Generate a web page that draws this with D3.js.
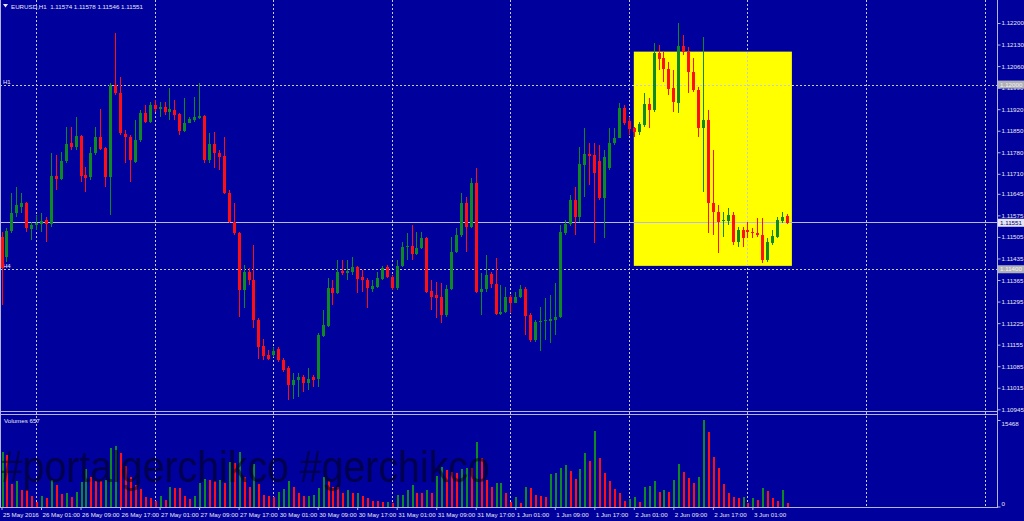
<!DOCTYPE html>
<html><head><meta charset="utf-8">
<script src="https://cdn.jsdelivr.net/npm/d3@7"></script>
<style>html,body{margin:0;padding:0;background:#00009C;overflow:hidden}svg{display:block}</style>
</head><body>
<svg id="c" width="1024" height="521"></svg>
<script>
// ---- DATA (EURUSD H1, 25 May 2016 17:00 .. 3 Jun 2016 08:00) ----
const opens = [1.11505,1.11440,1.11525,1.11584,1.11603,1.11615,1.11531,1.11545,1.11547,1.11560,1.11547,1.11703,1.11692,1.11753,1.11809,1.11796,1.11833,1.11706,1.11699,1.11777,1.11831,1.11793,1.11701,1.11999,1.11972,1.11839,1.11831,1.11749,1.11820,1.11907,1.11879,1.11933,1.11920,1.11926,1.11911,1.11917,1.11904,1.11850,1.11876,1.11885,1.11891,1.11899,1.11755,1.11807,1.11777,1.11768,1.11647,1.11554,1.11517,1.11332,1.11392,1.11365,1.11235,1.11150,1.11121,1.11121,1.11140,1.11105,1.11078,1.11024,1.11040,1.11050,1.11029,1.11049,1.11042,1.11183,1.11215,1.11338,1.11324,1.11394,1.11387,1.11392,1.11406,1.11374,1.11365,1.11337,1.11343,1.11367,1.11406,1.11376,1.11338,1.11410,1.11471,1.11475,1.11449,1.11468,1.11502,1.11329,1.11316,1.11310,1.11251,1.11336,1.11457,1.11511,1.11616,1.11538,1.11681,1.11327,1.11336,1.11384,1.11352,1.11254,1.11260,1.11310,1.11291,1.11309,1.11336,1.11251,1.11170,1.11227,1.11231,1.11233,1.11235,1.11246,1.11517,1.11546,1.11625,1.11571,1.11739,1.11773,1.11771,1.11752,1.11630,1.11730,1.11809,1.11827,1.11923,1.11882,1.11858,1.11845,1.11869,1.11936,1.11917,1.12102,1.12087,1.12051,1.11988,1.11939,1.12126,1.12105,1.12040,1.11982,1.11858,1.11885,1.11614,1.11587,1.11557,1.11557,1.11576,1.11489,1.11527,1.11527,1.11522,1.11519,1.11511,1.11430,1.11484,1.11506,1.11557,1.11574];
const highs = [1.11521,1.11534,1.11648,1.11668,1.11648,1.11619,1.11554,1.11576,1.11584,1.11571,1.11778,1.11771,1.11782,1.11863,1.11863,1.11896,1.11836,1.11733,1.11798,1.11863,1.11920,1.11798,1.12004,1.12169,1.12026,1.11852,1.11836,1.11885,1.11917,1.11934,1.11944,1.11950,1.11944,1.11944,1.11988,1.11950,1.11907,1.11955,1.11896,1.11961,1.12004,1.11901,1.11842,1.11847,1.11787,1.11831,1.11657,1.11614,1.11521,1.11414,1.11404,1.11479,1.11240,1.11175,1.11137,1.11148,1.11148,1.11111,1.11085,1.11062,1.11062,1.11056,1.11078,1.11056,1.11192,1.11267,1.11370,1.11365,1.11430,1.11430,1.11430,1.11441,1.11410,1.11397,1.11371,1.11365,1.11392,1.11410,1.11414,1.11381,1.11430,1.11489,1.11517,1.11544,1.11522,1.11522,1.11506,1.11365,1.11359,1.11354,1.11349,1.11504,1.11533,1.11649,1.11636,1.11695,1.11728,1.11387,1.11446,1.11392,1.11435,1.11349,1.11343,1.11316,1.11327,1.11349,1.11343,1.11257,1.11235,1.11278,1.11305,1.11316,1.11354,1.11544,1.11560,1.11641,1.11668,1.11798,1.11858,1.11809,1.11809,1.11804,1.11787,1.11858,1.11858,1.11939,1.11934,1.11896,1.11863,1.11877,1.11972,1.11955,1.12134,1.12129,1.12107,1.12074,1.12047,1.12199,1.12161,1.12123,1.12085,1.11993,1.12155,1.11917,1.11787,1.11609,1.11587,1.11600,1.11586,1.11538,1.11538,1.11554,1.11533,1.11565,1.11565,1.11500,1.11527,1.11571,1.11587,1.11578];
const lows = [1.11284,1.11423,1.11518,1.11571,1.11583,1.11522,1.11495,1.11527,1.11522,1.11489,1.11538,1.11657,1.11690,1.11744,1.11787,1.11787,1.11684,1.11652,1.11690,1.11771,1.11787,1.11668,1.11576,1.11966,1.11836,1.11744,1.11684,1.11744,1.11814,1.11874,1.11874,1.11912,1.11896,1.11901,1.11885,1.11885,1.11836,1.11847,1.11874,1.11879,1.11887,1.11744,1.11744,1.11728,1.11722,1.11645,1.11549,1.11511,1.11246,1.11273,1.11349,1.11208,1.11110,1.11105,1.11105,1.11116,1.11099,1.11067,1.10975,1.10980,1.10986,1.11002,1.11007,1.11018,1.11018,1.11180,1.11212,1.11284,1.11319,1.11381,1.11365,1.11381,1.11322,1.11327,1.11273,1.11327,1.11339,1.11365,1.11370,1.11332,1.11332,1.11408,1.11430,1.11430,1.11446,1.11466,1.11322,1.11267,1.11240,1.11224,1.11246,1.11332,1.11452,1.11506,1.11457,1.11534,1.11322,1.11251,1.11327,1.11338,1.11251,1.11251,1.11257,1.11257,1.11289,1.11305,1.11186,1.11164,1.11164,1.11135,1.11170,1.11159,1.11186,1.11241,1.11511,1.11540,1.11511,1.11554,1.11636,1.11674,1.11484,1.11625,1.11500,1.11722,1.11804,1.11825,1.11869,1.11836,1.11831,1.11836,1.11863,1.11858,1.11912,1.12047,1.12009,1.11966,1.11912,1.11907,1.12096,1.11972,1.11975,1.11831,1.11652,1.11517,1.11511,1.11452,1.11506,1.11544,1.11479,1.11473,1.11473,1.11500,1.11500,1.11506,1.11419,1.11424,1.11479,1.11500,1.11549,1.11546];
const closes = [1.11404,1.11524,1.11584,1.11609,1.11615,1.11534,1.11544,1.11551,1.11558,1.11547,1.11703,1.11692,1.11753,1.11807,1.11796,1.11833,1.11703,1.11695,1.11777,1.11831,1.11790,1.11701,1.11999,1.11972,1.11842,1.11829,1.11755,1.11820,1.11909,1.11879,1.11933,1.11920,1.11928,1.11911,1.11920,1.11902,1.11850,1.11876,1.11887,1.11894,1.11899,1.11755,1.11807,1.11777,1.11766,1.11647,1.11554,1.11517,1.11332,1.11392,1.11365,1.11235,1.11148,1.11118,1.11110,1.11134,1.11105,1.11072,1.11024,1.11040,1.11050,1.11029,1.11045,1.11040,1.11186,1.11219,1.11338,1.11322,1.11392,1.11387,1.11395,1.11406,1.11367,1.11365,1.11338,1.11346,1.11370,1.11403,1.11374,1.11338,1.11410,1.11471,1.11475,1.11449,1.11468,1.11500,1.11327,1.11310,1.11305,1.11251,1.11336,1.11457,1.11511,1.11614,1.11538,1.11679,1.11327,1.11336,1.11381,1.11352,1.11254,1.11260,1.11310,1.11289,1.11309,1.11336,1.11248,1.11170,1.11227,1.11233,1.11235,1.11237,1.11246,1.11522,1.11546,1.11625,1.11571,1.11741,1.11773,1.11769,1.11712,1.11630,1.11766,1.11809,1.11827,1.11923,1.11874,1.11856,1.11845,1.11871,1.11936,1.11917,1.12102,1.12083,1.12051,1.11986,1.11942,1.12126,1.12105,1.12040,1.11982,1.11858,1.11885,1.11614,1.11587,1.11554,1.11561,1.11576,1.11489,1.11527,1.11502,1.11520,1.11517,1.11511,1.11430,1.11487,1.11509,1.11560,1.11571,1.11551];
const volumes = [9800,9210,4020,4560,2950,2880,1880,860,1880,1460,4740,3840,2240,2350,1760,2650,4440,6650,5330,4620,4600,4740,10400,10820,9510,7240,5330,3840,3070,1640,1460,1040,1880,1160,3430,3250,3230,1880,1280,1880,4260,4860,4820,4620,4740,4260,8020,7720,9800,5330,3540,7600,4020,2060,1880,1640,2650,3070,4560,3540,2470,1880,1900,2060,3250,5220,4620,3430,3400,2350,2950,2470,2500,1880,1460,1040,1020,860,880,700,2060,2080,2950,3840,2470,2450,2950,2470,5450,7000,6530,6230,6050,6650,6830,6800,11590,8610,4740,3540,4260,4280,2470,860,1640,680,3430,3250,2060,1880,1640,5810,6050,6830,7420,6410,4860,6650,9510,8190,13560,8610,6050,4620,3130,2350,1040,1280,1640,860,3430,3670,4620,2650,2950,2650,4740,7600,6230,5030,4260,5330,15468,13320,8910,6830,4020,2350,1760,1460,1640,570,1460,1160,3250,2830,1460,1040,2950,657];
const timeTickIndex = [0,8,16,24,32,40,48,56,64,72,80,88,96,104,112,120,128,136,144,152];
const timeTickLabels = ["25 May 2016","26 May 01:00","26 May 09:00","26 May 17:00","27 May 01:00","27 May 09:00","27 May 17:00","30 May 01:00","30 May 09:00","30 May 17:00","31 May 01:00","31 May 09:00","31 May 17:00","1 Jun 01:00","1 Jun 09:00","1 Jun 17:00","2 Jun 01:00","2 Jun 09:00","2 Jun 17:00","3 Jun 01:00"];
const dayGridIndex = [7,31,55,79,103,127,151,175,199];
const priceTicks = [1.12200,1.12130,1.12060,1.11990,1.11920,1.11850,1.11780,1.11710,1.11645,1.11575,1.11505,1.11435,1.11365,1.11295,1.11225,1.11155,1.11085,1.11015,1.10945];
const volumeTicks = [15468, 0];
const hLines = [{name:"H1", price:1.12000},{name:"H4", price:1.11400}];
const bidPrice = 1.11551;
const zoneStart = 128, zoneEnd = 160, zoneTop = 1.12107, zoneBottom = 1.11411;
const header = "EURUSD,H1  1.11574 1.11578 1.11546 1.11551";
const volumeTitle = "Volumes 657";
const watermark = "#portalgerchikco #gerchikco";

// ---- LAYOUT ----
const W = 1024, H = 521, axisX = 997;
const BG = "#00009C", UP = "#0f8a22", DN = "#ff1010", FG = "#e8e8f4", GRID = "#c8c8d8", FRAME = "#b4b4e6";
const FONT = "'Liberation Sans', Arial, sans-serif";
const svg = d3.select("#c");
svg.append("rect").attr("width", W).attr("height", H).attr("fill", BG);

const x = d3.scaleLinear().domain([0, 159]).range([1.5, 1.5 + 4.94 * 159]);
const y = d3.scaleLinear().domain([1.10945, 1.12200]).range([409.3, 23]);
const yv = d3.scaleLinear().domain([0, 15468]).range([506.5, 420]);
const mainTop = 0, mainBottom = 411.5, volTop = 414.5, volBottom = 506.5;

// yellow zone (background object)
svg.append("rect")
  .attr("x", x(zoneStart)).attr("width", x(zoneEnd) - x(zoneStart))
  .attr("y", y(zoneTop)).attr("height", y(zoneBottom) - y(zoneTop))
  .attr("fill", "#ffff00");

// vertical grid
const g = svg.append("g").attr("shape-rendering", "crispEdges");
dayGridIndex.forEach(i => {
  const xx = Math.round(x(i)) + 0.5;
  if (xx > axisX) return;
  g.append("line").attr("x1", xx).attr("x2", xx).attr("y1", mainTop).attr("y2", volBottom)
    .attr("stroke", GRID).attr("stroke-dasharray", "2,2");
});
// horizontal objects H1 / H4
hLines.forEach(h => {
  const yy = Math.round(y(h.price)) + 0.5;
  g.append("line").attr("x1", 0).attr("x2", axisX).attr("y1", yy).attr("y2", yy)
    .attr("stroke", GRID).attr("stroke-dasharray", "2,2");
  svg.append("text").attr("x", 3).attr("y", yy - 2).attr("fill", FG)
    .attr("font-family", FONT).attr("font-size", 6).text(h.name);
});
// bid line
const by = y(bidPrice);
g.append("line").attr("x1", 0).attr("x2", axisX).attr("y1", by).attr("y2", by)
  .attr("stroke", "#b8b8e4").attr("stroke-width", 1.4);

// candles
const idx = d3.range(opens.length);
const cg = svg.append("g").attr("shape-rendering", "crispEdges");
idx.forEach(i => {
  const up = closes[i] >= opens[i];
  const col = up ? UP : DN;
  const cx = Math.round(x(i));
  cg.append("line").attr("x1", cx + 0.5).attr("x2", cx + 0.5)
    .attr("y1", y(highs[i])).attr("y2", y(lows[i])).attr("stroke", col);
  const t = y(Math.max(opens[i], closes[i])), b = y(Math.min(opens[i], closes[i]));
  cg.append("rect").attr("x", cx - 1).attr("width", 3)
    .attr("y", t).attr("height", Math.max(1, b - t)).attr("fill", col);
});

// volume bars (MT4 Volumes: green when volume rises)
const vg = svg.append("g").attr("shape-rendering", "crispEdges");
idx.forEach(i => {
  const col = (i === 0 || volumes[i] > volumes[i - 1]) ? UP : DN;
  const cx = Math.round(x(i));
  vg.append("rect").attr("x", cx - 0.5).attr("width", 2)
    .attr("y", yv(volumes[i])).attr("height", yv(0) - yv(volumes[i])).attr("fill", col);
});

// watermark
svg.append("text").attr("x", 1).attr("y", 482)
  .attr("font-family", FONT).attr("font-size", 44)
  .attr("textLength", 489).attr("lengthAdjust", "spacingAndGlyphs")
  .attr("fill", "#000000").attr("fill-opacity", 0.5).text(watermark);

// frames
const f = svg.append("g").attr("shape-rendering", "crispEdges").attr("stroke", FRAME).attr("fill", "none");
f.append("line").attr("x1", 0.5).attr("x2", 0.5).attr("y1", 0).attr("y2", volBottom);
f.append("line").attr("x1", axisX + 0.5).attr("x2", axisX + 0.5).attr("y1", 0).attr("y2", volBottom);
f.append("line").attr("x1", 0).attr("x2", axisX).attr("y1", mainBottom).attr("y2", mainBottom);
f.append("line").attr("x1", 0).attr("x2", axisX).attr("y1", volTop).attr("y2", volTop);
f.append("line").attr("x1", 0).attr("x2", axisX + 1).attr("y1", volBottom + 0.5).attr("y2", volBottom + 0.5);

// right price axis
const ax = svg.append("g").attr("transform", `translate(${axisX + 0.5},0)`)
  .call(d3.axisRight(y).tickValues(priceTicks).tickSize(3).tickPadding(1).tickFormat(d3.format(".5f")));
ax.select(".domain").remove();
ax.selectAll("line").attr("stroke", FRAME);
ax.selectAll("text").attr("fill", FG).attr("font-family", FONT).attr("font-size", 6.2);

// price boxes for H1/H4 and bid
function box(price, bg, fg) {
  const yy = y(price);
  svg.append("rect").attr("x", axisX + 1).attr("y", yy - 4).attr("width", 26).attr("height", 8).attr("fill", bg);
  svg.append("text").attr("x", axisX + 3).attr("y", yy).attr("dy", "0.35em").attr("fill", fg)
    .attr("font-family", FONT).attr("font-size", 6.2).text(d3.format(".5f")(price));
}
hLines.forEach(h => box(h.price, "#b0b0b8", "#f4f4f4"));
box(bidPrice, "#e6e6f2", "#00007a");

// volume axis
const vax = svg.append("g").attr("transform", `translate(${axisX + 0.5},0)`)
  .call(d3.axisRight(yv).tickValues(volumeTicks).tickSize(3).tickPadding(1).tickFormat(d3.format("d")));
vax.select(".domain").remove();
vax.selectAll("line").attr("stroke", FRAME);
vax.selectAll("text").attr("fill", FG).attr("font-family", FONT).attr("font-size", 6.2)
  .attr("dy", d => d === 0 ? "-0.2em" : "0.9em");

// time axis
const tax = svg.append("g").attr("transform", `translate(0,${volBottom + 0.5})`)
  .call(d3.axisBottom(x).tickValues(timeTickIndex).tickSize(3).tickPadding(3)
    .tickFormat((d, k) => timeTickLabels[k]));
tax.select(".domain").remove();
tax.selectAll("line").attr("stroke", FRAME);
tax.selectAll("text").attr("fill", FG).attr("font-family", FONT).attr("font-size", 6.2)
  .attr("text-anchor", "start").attr("dx", 1);

// header + volume title
svg.append("path").attr("d", "M3,4 L8,4 L5.5,7.5 Z").attr("fill", FG);
svg.append("text").attr("x", 11).attr("y", 8.5).attr("fill", FG)
  .attr("font-family", FONT).attr("font-size", 6.2).attr("xml:space", "preserve").text(header);
svg.append("text").attr("x", 4).attr("y", 422.5).attr("fill", FG)
  .attr("font-family", FONT).attr("font-size", 6.2).text(volumeTitle);
</script>
</body></html>
